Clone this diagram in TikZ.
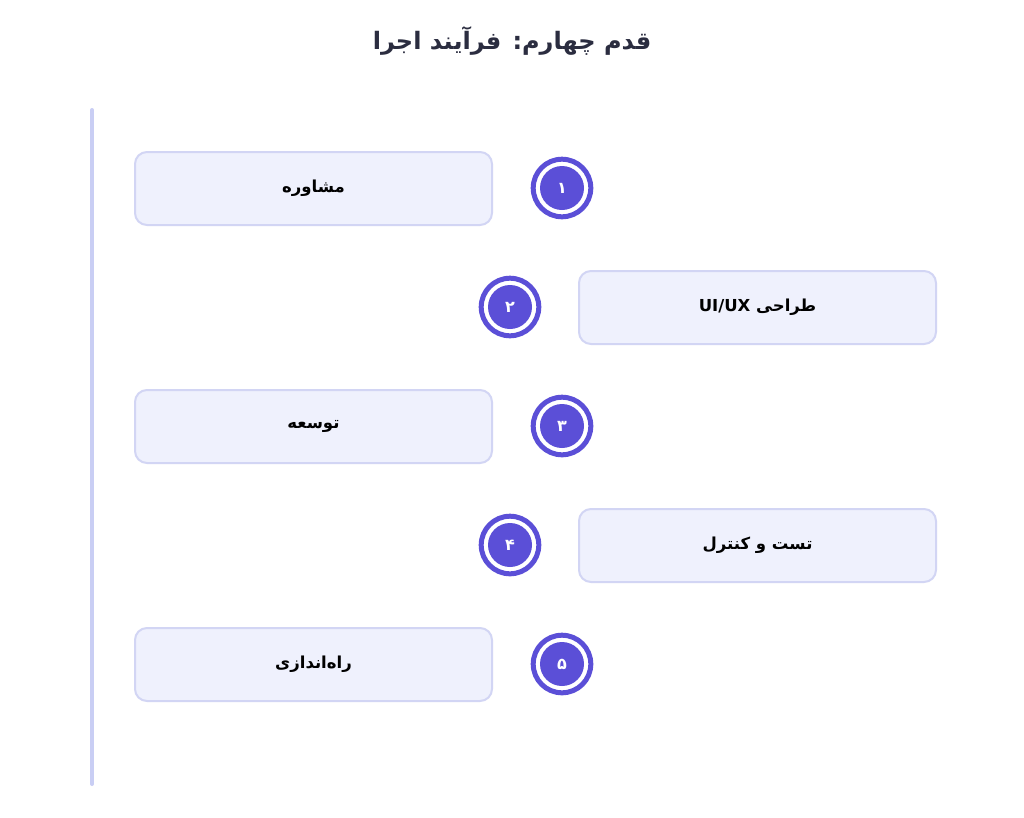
\documentclass[tikz,border=0pt]{standalone}
\usepackage{fontspec}
\TeXXeTstate=1
\newfontfamily\arabicfont[Script=Arabic]{DejaVu Sans}
\definecolor{linec}{HTML}{C9CEF4}
\definecolor{boxfill}{HTML}{EFF1FD}
\definecolor{boxline}{HTML}{D2D5F4}
\definecolor{circc}{HTML}{5B4FD7}
\definecolor{titlec}{HTML}{2B2D40}
\begin{document}
\begin{tikzpicture}[x=1pt,y=-1pt,
  stepbox/.style={draw=boxline,fill=boxfill,line width=2pt,rounded corners=12pt,
    minimum width=357pt,minimum height=73pt,inner sep=0pt,
    font=\arabicfont\bfseries\fontsize{16.5}{18}\selectfont,text=black},
  numdisk/.style={circle,fill=circc,minimum size=44pt,inner sep=0pt,text=white,
    font=\arabicfont\bfseries\fontsize{16}{18}\selectfont},
  numring/.style={circle,draw=circc,line width=5pt,minimum size=57.6pt,inner sep=0pt}]
\useasboundingbox[fill=white] (0,0) rectangle (1024,817);
\node[font=\arabicfont\bfseries\fontsize{24}{28}\selectfont,text=titlec] (title) at (512,41) {\beginR قدم چهارم: فرآیند اجرا\endR};
\coordinate (ltop) at (92,110);
\coordinate (lbot) at (92,784);
\draw[linec,line width=4pt,line cap=round] (ltop) -- (lbot);
% step 1
\node[stepbox] (b1) at (313.5,188.5) {\beginR مشاوره\endR};
\node[numring] (r1) at (562,188) {};
\node[numdisk] (c1) at (562,188) {\beginR ۱\endR};
% step 2
\node[stepbox] (b2) at (757.5,307.5) {\beginR طراحی \beginL UI/UX\endL\endR};
\node[numring] (r2) at (510,307) {};
\node[numdisk] (c2) at (510,307) {\beginR ۲\endR};
% step 3
\node[stepbox] (b3) at (313.5,426.5) {\beginR توسعه\endR};
\node[numring] (r3) at (562,426) {};
\node[numdisk] (c3) at (562,426) {\beginR ۳\endR};
% step 4
\node[stepbox] (b4) at (757.5,545.5) {\beginR تست و کنترل\endR};
\node[numring] (r4) at (510,545) {};
\node[numdisk] (c4) at (510,545) {\beginR ۴\endR};
% step 5
\node[stepbox] (b5) at (313.5,664.5) {\beginR راه‌اندازی\endR};
\node[numring] (r5) at (562,664) {};
\node[numdisk] (c5) at (562,664) {\beginR ۵\endR};
\end{tikzpicture}
\end{document}
